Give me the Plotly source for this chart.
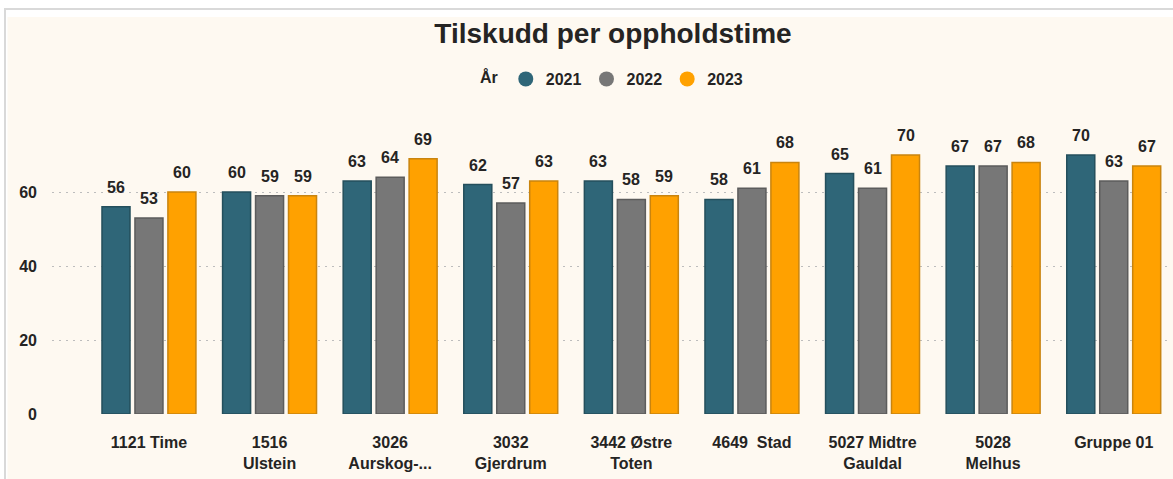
import plotly.graph_objects as go

# Kommuner og verdier (tilskudd per oppholdstime, kr)
kommuner = ["1121 Time", "1516<br>Ulstein", "3026<br>Aurskog-...", "3032<br>Gjerdrum",
            "3442 Østre<br>Toten", "4649  Stad", "5027 Midtre<br>Gauldal", "5028<br>Melhus",
            "Gruppe 01"]
aar = ["2021", "2022", "2023"]
v2021 = [56, 60, 63, 62, 63, 58, 65, 67, 70]
v2022 = [53, 59, 64, 57, 58, 61, 61, 67, 63]
v2023 = [60, 59, 69, 63, 59, 68, 70, 68, 67]
y_ticks = [0, 20, 40, 60]

serier = [v2021, v2022, v2023]
fyll = ["#2F6678", "#777777", "#FFA100"]
kant = ["#244F5C", "#5C5C5C", "#C9840E"]

W, H = 1173, 479
ML, MR, MT, MB = 52, 5, 118, 65
PW, PH = W - ML - MR, H - MT - MB
TXT = "#252423"
FONT = "Liberation Sans"
BG = "#FEF9F1"


def px_x(p):
    return (p - ML) / PW


def px_y(p):
    return (H - MB - p) / PH


fig = go.Figure()
for navn, vals, f, k in zip(aar, serier, fyll, kant):
    fig.add_trace(go.Bar(
        x=kommuner, y=vals, name=navn, legendgroup=navn, showlegend=False,
        marker=dict(color=f, line=dict(color=k, width=1.5)),
        hovertemplate="%{x}<br>" + navn + ": %{y}<extra></extra>",
    ))
    # legend entry with round marker
    fig.add_trace(go.Scatter(
        x=[None], y=[None], mode="markers", name=f"<b>{navn}</b>", legendgroup=navn,
        marker=dict(color=f, size=15, symbol="circle"),
    ))

# value labels above each bar
slot = 33
for j, vals in enumerate(serier):
    for kat, v in zip(kommuner, vals):
        fig.add_annotation(
            x=kat, y=v, text=f"<b>{v}</b>", showarrow=False,
            xshift=(j - 1) * slot, yshift=9, yanchor="bottom",
            font=dict(family=FONT, size=16, color=TXT),
        )

fig.update_layout(
    width=W, height=H,
    margin=dict(l=ML, r=MR, t=MT, b=MB),
    paper_bgcolor="white",
    plot_bgcolor="rgba(0,0,0,0)",
    barmode="group", bargap=0.18, bargroupgap=0.15,
    font=dict(family=FONT, color=TXT),
    title=dict(text="<b>Tilskudd per oppholdstime</b>", xref="container", x=613 / W,
               xanchor="center", yref="container", y=1 - 33 / H, yanchor="middle",
               font=dict(family=FONT, size=28, color=TXT)),
    legend=dict(orientation="h", x=px_x(613), xanchor="center", y=px_y(79), yanchor="middle",
                title=dict(text="<b>År</b>", font=dict(family=FONT, size=16, color=TXT)),
                font=dict(family=FONT, size=16, color=TXT),
                itemwidth=30, bgcolor="rgba(0,0,0,0)", tracegroupgap=0),
    xaxis=dict(range=[-0.804, 8.45], showgrid=False, showline=False, ticks="",
               tickvals=kommuner, ticktext=[f"<b>{k}</b>" for k in kommuner],
               tickfont=dict(family=FONT, size=16, color=TXT),
               ticklabelstandoff=17, tickangle=0),
    yaxis=dict(range=[0, 80], tickvals=y_ticks, ticktext=[f"<b>{t}</b>" for t in y_ticks],
               showgrid=True, gridcolor="#BDBDBD",
               griddash="2px,5px", gridwidth=1, zeroline=False, showline=False, ticks="",
               tickfont=dict(family=FONT, size=16, color=TXT), ticklabelstandoff=14),
    shapes=[
        dict(type="rect", xref="paper", yref="paper", layer="below",
             x0=px_x(7.5), x1=px_x(W + 5), y0=px_y(17), y1=px_y(H + 5),
             fillcolor=BG, line=dict(width=0)),
        dict(type="line", xref="paper", yref="paper", layer="below",
             x0=px_x(5), x1=px_x(W + 5), y0=px_y(9), y1=px_y(9),
             line=dict(color="#D9D9D9", width=2)),
        dict(type="line", xref="paper", yref="paper", layer="below",
             x0=px_x(5), x1=px_x(5), y0=px_y(8), y1=px_y(H + 5),
             line=dict(color="#D9D9D9", width=2)),
    ],
)

fig.write_html("out.html")
